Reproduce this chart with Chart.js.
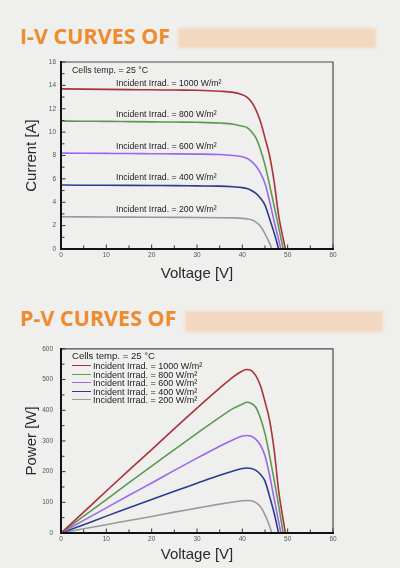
<!DOCTYPE html>
<html>
<head>
<meta charset="utf-8">
<script src="https://cdn.jsdelivr.net/npm/chart.js@4.4.1/dist/chart.umd.min.js"></script>
<style>
  html,body{margin:0;padding:0;}
  body{width:400px;height:568px;background:#efefee;position:relative;overflow:hidden;font-family:"Liberation Sans",Arial,sans-serif;}
  .head{position:absolute;left:20px;font-family:"Open Sans",sans-serif;font-weight:700;font-size:21.5px;line-height:24px;color:#ee8b2c;white-space:nowrap;}
  .mask{position:absolute;background:#f3d7be;filter:blur(1.5px);}
  .box{position:absolute;left:0;width:400px;}
  .note{position:absolute;white-space:nowrap;color:#222;font-family:"Liberation Sans",Arial,sans-serif;}
  .leg{position:absolute;left:72px;white-space:nowrap;color:#222;font-size:9px;line-height:9px;height:9px;}
  .leg i{display:inline-block;width:19px;height:0;border-top:1.6px solid;vertical-align:middle;margin-right:2px;position:relative;top:-1px;}
</style>
</head>
<body>
<div class="head" style="top:24px">I-V CURVES OF</div>
<div class="mask" style="left:178px;top:28px;width:198px;height:20px"></div>
<div class="box" style="top:52px;height:238px"><canvas id="iv"></canvas></div>

<div class="head" style="top:306px">P-V CURVES OF</div>
<div class="mask" style="left:185px;top:311px;width:198px;height:21px"></div>
<div class="box" style="top:337px;height:231px"><canvas id="pv"></canvas></div>

<div id="ivNotes"></div>
<div id="pvLegend"></div>

<script>
// ---------- data ----------
const tempLabel = "Cells temp. = 25 °C";
const seriesNames = [
  "Incident Irrad. = 1000 W/m²",
  "Incident Irrad. = 800 W/m²",
  "Incident Irrad. = 600 W/m²",
  "Incident Irrad. = 400 W/m²",
  "Incident Irrad. = 200 W/m²"
];
const seriesColors = ["#a93339", "#5b9a50", "#9b66f0", "#2d3a8c", "#9a9a9a"];

// shared voltage grid [V]
const voltage = [0, 5, 10, 15, 20, 25, 30, 35, 38, 40, 41, 42, 43, 44, 45, 46, 47, 48, 49];
// open-circuit voltage of each curve [V]
const openCircuitV = [49.5, 49, 48.5, 48, 46.5];

// currents [A]
const current1000 = [13.70,13.68,13.66,13.64,13.62,13.60,13.58,13.50,13.40,13.20,13.00,12.60,11.90,10.90,9.50,8.00,5.80,2.90,0.90];
const current800  = [10.95,10.93,10.92,10.90,10.88,10.86,10.84,10.78,10.68,10.50,10.40,10.05,9.50,8.50,7.20,5.50,3.70,1.90,null];
const current600  = [8.20,8.19,8.18,8.17,8.15,8.14,8.12,8.08,8.00,7.90,7.76,7.50,7.10,6.50,5.60,4.10,2.40,0.80,null];
const current400  = [5.47,5.46,5.45,5.44,5.43,5.42,5.40,5.38,5.32,5.25,5.17,5.00,4.75,4.35,3.75,2.60,1.40,null,null];
const current200  = [2.76,2.75,2.74,2.73,2.72,2.71,2.70,2.68,2.66,2.62,2.58,2.50,2.30,1.95,1.30,0.50,null,null,null];

// powers [W]
const power1000 = [0,68,137,205,272,340,407,472,509,528,533,529,512,480,428,368,273,139,44];
const power800  = [0,55,109,164,218,272,325,377,406,420,426,422,409,374,324,253,174,91,null];
const power600  = [0,41,82,123,163,204,244,283,304,316,318,315,305,286,252,189,113,38,null];
const power400  = [0,27,55,82,109,136,162,188,202,210,212,210,204,191,169,120,66,null,null];
const power200  = [0,14,27,41,54,68,81,94,101,105,106,105,99,86,59,23,null,null,null];

// axis ranges / ticks
const voltTicks = {min: 0, max: 60, step: 10};
const currTicks = {min: 0, max: 16, step: 2};
const powTicks  = {min: 0, max: 600, step: 100};

const currents = [current1000, current800, current600, current400, current200];
const powers   = [power1000, power800, power600, power400, power200];

// ---------- helpers ----------
function toPoints(values, voc) {
  const pts = [];
  voltage.forEach((v, k) => { if (values[k] !== null) pts.push({x: v, y: values[k]}); });
  pts.push({x: voc, y: 0});
  return pts;
}

const framePlugin = {
  id: 'frame',
  afterDatasetsDraw(chart) {
    const {ctx, chartArea: a, scales} = chart;
    ctx.save();
    ctx.lineCap = 'square';
    ctx.strokeStyle = '#4a4a4a';
    ctx.lineWidth = 1.2;
    ctx.beginPath();
    ctx.moveTo(a.left, a.top); ctx.lineTo(a.right, a.top); ctx.lineTo(a.right, a.bottom);
    ctx.stroke();
    ctx.strokeStyle = '#333';
    ctx.lineWidth = 1;
    const xs = scales.x, ys = scales.y;
    const xStep = xs.options.ticks.stepSize, yStep = ys.options.ticks.stepSize;
    ctx.beginPath();
    for (let v = xs.min; v <= xs.max + 1e-9; v += xStep / 2) {
      const px = xs.getPixelForValue(v);
      const major = Math.abs((v / xStep) - Math.round(v / xStep)) < 1e-6;
      ctx.moveTo(px, a.bottom); ctx.lineTo(px, a.bottom - (major ? 4 : 3));
    }
    for (let v = ys.min; v <= ys.max + 1e-9; v += yStep / 2) {
      const py = ys.getPixelForValue(v);
      const major = Math.abs((v / yStep) - Math.round(v / yStep)) < 1e-6;
      ctx.moveTo(a.left, py); ctx.lineTo(a.left + (major ? 4 : 3), py);
    }
    ctx.stroke();
    ctx.strokeStyle = '#111';
    ctx.lineWidth = 2;
    ctx.beginPath();
    ctx.moveTo(a.left, a.top); ctx.lineTo(a.left, a.bottom); ctx.lineTo(a.right, a.bottom);
    ctx.stroke();
    ctx.restore();
  }
};

function makeChart(id, seriesValues, yCfg, yTitle, xHeight, yLabelPad, xLabelPad, xTitlePad, yTitlePad) {
  const datasets = seriesValues.map((vals, s) => ({
    label: seriesNames[s],
    data: toPoints(vals, openCircuitV[s]),
    borderColor: seriesColors[s],
    backgroundColor: seriesColors[s],
    borderWidth: 1.6,
    pointRadius: 0,
    fill: false,
    cubicInterpolationMode: 'monotone'
  }));
  return new Chart(document.getElementById(id), {
    type: 'line',
    data: {datasets},
    plugins: [framePlugin],
    options: {
      responsive: true,
      maintainAspectRatio: false,
      animation: false,
      events: [],
      layout: {autoPadding: false, padding: {top: 10, right: 67, left: 0, bottom: 0}},
      plugins: {legend: {display: false}, tooltip: {enabled: false}},
      scales: {
        x: {
          type: 'linear',
          min: voltTicks.min, max: voltTicks.max,
          ticks: {stepSize: voltTicks.step, padding: xLabelPad, color: '#555',
                  font: {family: '"Liberation Sans", Arial, sans-serif', size: 6.5}, maxRotation: 0},
          grid: {display: false, drawTicks: false},
          border: {display: false},
          title: {display: true, text: 'Voltage [V]', color: '#2a2a2a',
                  font: {family: '"Liberation Sans", Arial, sans-serif', size: 15},
                  padding: {top: 0, bottom: xTitlePad}},
          afterFit(scale) { scale.height = xHeight; }
        },
        y: {
          type: 'linear',
          min: yCfg.min, max: yCfg.max,
          ticks: {stepSize: yCfg.step, padding: yLabelPad, color: '#555',
                  font: {family: '"Liberation Sans", Arial, sans-serif', size: 6.5}},
          grid: {display: false, drawTicks: false},
          border: {display: false},
          title: {display: true, text: yTitle, color: '#2a2a2a',
                  font: {family: '"Liberation Sans", Arial, sans-serif', size: 15},
                  padding: {top: yTitlePad, bottom: 0}},
          afterFit(scale) { scale.width = 61; }
        }
      }
    }
  });
}

makeChart('iv', currents, currTicks, 'Current [A]', 41, 5, 2.5, 7, 23);
makeChart('pv', powers, powTicks, 'Power [W]', 35, 8, 2.5, 4, 22.5);

// ---------- I-V annotations ----------
const ivNoteTops = [83, 114.5, 146, 177.7, 209.3];
const notes = document.getElementById('ivNotes');
function addNote(text, left, cy, size) {
  const d = document.createElement('div');
  d.className = 'note';
  d.textContent = text;
  d.style.left = left + 'px';
  d.style.fontSize = size + 'px';
  d.style.lineHeight = size + 'px';
  d.style.top = (cy - size / 2) + 'px';
  notes.appendChild(d);
}
addNote(tempLabel, 72, 70.7, 8.8);
seriesNames.forEach((n, s) => addNote(n, 116, ivNoteTops[s], 8.7));

// ---------- P-V legend ----------
const leg = document.getElementById('pvLegend');
const t = document.createElement('div');
t.className = 'leg';
t.style.top = (355.7 - 5) + 'px';
t.style.fontSize = '9.6px';
t.style.lineHeight = '10px';
t.textContent = tempLabel;
leg.appendChild(t);
seriesNames.forEach((n, s) => {
  const d = document.createElement('div');
  d.className = 'leg';
  d.style.top = (366.7 + s * 8.5 - 4.5) + 'px';
  const i = document.createElement('i');
  i.style.borderTopColor = seriesColors[s];
  d.appendChild(i);
  d.appendChild(document.createTextNode(n));
  leg.appendChild(d);
});
</script>
</body>
</html>
